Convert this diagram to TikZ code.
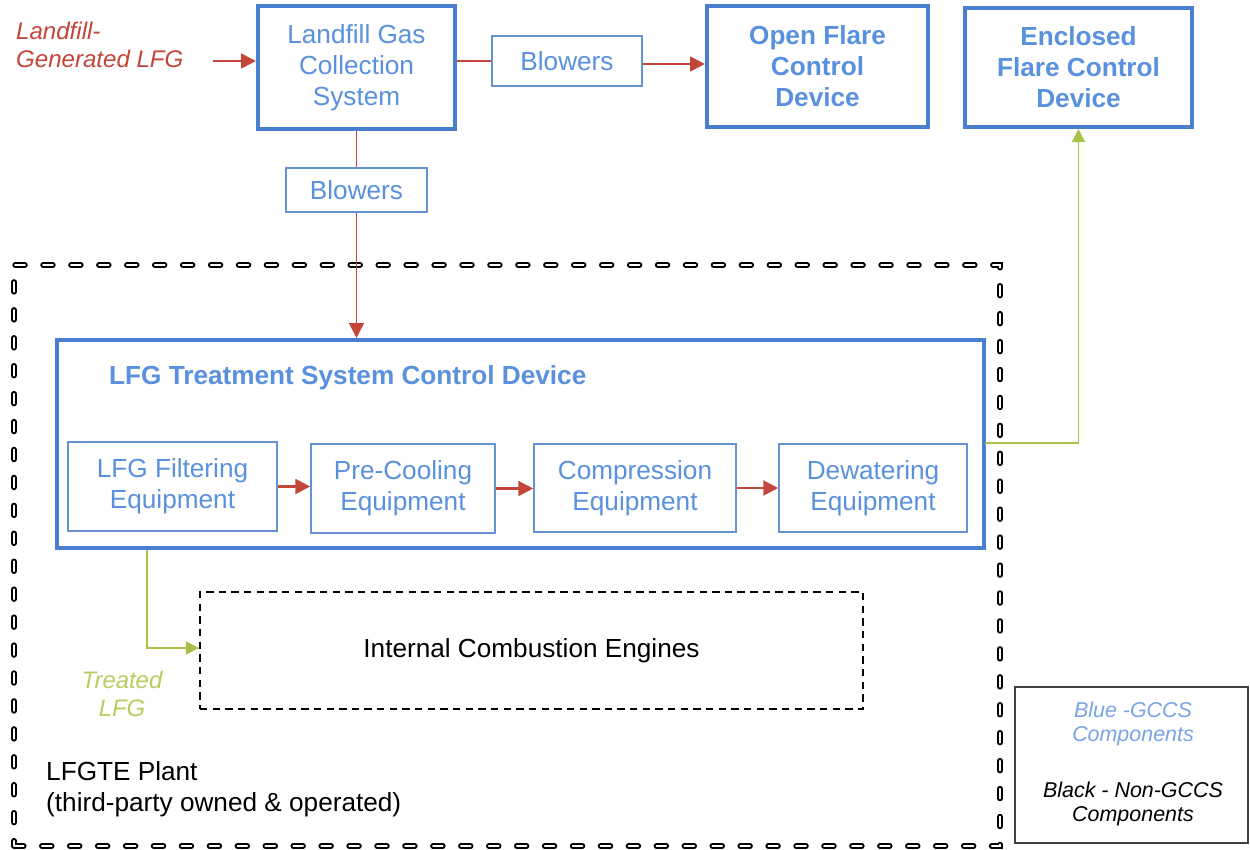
\documentclass[tikz,border=0pt]{standalone}
\usepackage{fontspec}
\setmainfont{Liberation Sans}
\usetikzlibrary{arrows.meta,calc}
\definecolor{bordblue}{RGB}{74,126,206}
\definecolor{txtblue}{RGB}{90,145,222}
\definecolor{legblue}{RGB}{120,165,228}
\definecolor{flowred}{RGB}{196,70,58}
\definecolor{flowgreen}{RGB}{168,194,74}
\definecolor{txtgreen}{RGB}{185,205,95}
\tikzset{
  wh/.style 2 args={minimum width=#1*0.02cm, minimum height=#2*0.02cm},
  basefont/.style={font=\fontsize{14.9}{17.6}\selectfont},
  thickbox/.style={draw=bordblue, line width=2.3pt, inner sep=0pt, text=txtblue, align=center, basefont},
  thinbox/.style={draw=bordblue!85!white, line width=0.9pt, inner sep=0pt, text=txtblue, align=center, basefont},
  boldtxt/.style={font=\fontsize{14.9}{17.6}\selectfont\bfseries},
  redflow/.style={draw=flowred, line width=1pt},
  redarrow/.style={redflow, -{Triangle[length=8.5pt,width=8.5pt]}},
  greenflow/.style={draw=flowgreen, line width=0.9pt},
  greenarrow/.style={greenflow, -{Triangle[length=7.5pt,width=7.5pt]}},
  plantbox/.style={draw=black, double=white, double distance=1.1pt, line width=1.1pt,
     dash pattern=on 5.5pt off 10.4pt, line cap=round, inner sep=0pt},
  icebox/.style={draw=black, line width=1.1pt, dash pattern=on 4.2pt off 3pt, inner sep=0pt},
}
\begin{document}
\begin{tikzpicture}[x=0.02cm, y=-0.02cm]
\useasboundingbox[fill=white] (0,0) rectangle (1250,849);

% big plant dashed box
\node[plantbox, wh={986}{581}] (plant) at (507,555.5) {};

% top row
\node[anchor=west, align=left, text=flowred, font=\fontsize{13.7}{16.2}\selectfont\itshape] (lfgin) at (10,45) {Landfill-\\Generated LFG};
\node[thickbox, wh={197}{123}] (lgcs) at (356.5,67.5) {Landfill Gas\\Collection\\System};
\node[thinbox, wh={150}{50}] (blowA) at (567,61) {Blowers};
\node[thickbox, wh={221}{121}, boldtxt] (ofl) at (817.5,66.5) {Open Flare\\Control\\Device};
\node[thickbox, wh={227}{119}, boldtxt] (efl) at (1078.5,67.5) {Enclosed\\Flare Control\\Device};
\node[thinbox, wh={141}{44}] (blowB) at (356.5,190) {Blowers};

% treatment system
\node[thickbox, wh={927}{208}] (tsc) at (520.5,444) {};
\node[anchor=west, text=txtblue, boldtxt] (title) at (103,378) {LFG Treatment System Control Device};
\node[thinbox, wh={209}{89}] (filt) at (172.5,486.5) {LFG Filtering\\Equipment};
\node[thinbox, wh={184}{89}] (pre) at (403,488.5) {Pre-Cooling\\Equipment};
\node[thinbox, wh={202}{88}] (comp) at (635,488) {Compression\\Equipment};
\node[thinbox, wh={188}{88}] (dew) at (873,488) {Dewatering\\Equipment};

% engines
\node[icebox, wh={663}{117}, basefont] (ice) at (531.5,650.5) {Internal Combustion Engines};
\node[text=txtgreen, align=center, font=\fontsize{13.6}{15.5}\selectfont\itshape] (treated) at (122,694) {Treated\\LFG};

% plant label
\node[anchor=west, align=left, basefont] (plantlbl) at (40,789) {LFGTE Plant\\(third-party owned \& operated)};

% legend
\node[draw=black!75, line width=0.6pt, wh={233}{156}, inner sep=0pt] (legend) at (1131.5,765) {};
\node[text=legblue, align=center, font=\fontsize{12.2}{13.7}\selectfont\itshape] (legA) at (1133,724) {Blue -GCCS\\Components};
\node[text=black, align=center, font=\fontsize{12.2}{13.7}\selectfont\itshape] (legB) at (1133,804) {Black - Non-GCCS\\Components};

% connectors
\coordinate (inS) at (213,61);
\draw[redarrow] (inS) -- (inS -| lgcs.west);
\draw[redflow] (lgcs.east |- blowA.west) -- (blowA.west);
\draw[redarrow] ([yshift=-3*0.02cm]blowA.east) -- ([yshift=-3*0.02cm]blowA.east -| ofl.west);
\draw[redflow] (lgcs.south) -- (blowB.north);
\draw[redarrow] (blowB.south) -- (blowB.south |- tsc.north);
\draw[redarrow, line width=1.3pt] (filt.east) -- (filt.east -| pre.west);
\draw[redarrow, line width=1.3pt] (pre.east) -- (pre.east -| comp.west);
\draw[redarrow, line width=1.3pt] (comp.east) -- (comp.east -| dew.west);

\coordinate (gR) at (985,443);
\draw[greenarrow] (gR) -| (efl.south);
\coordinate (gL) at (147,550);
\draw[greenarrow] (gL) |- ([yshift=2.5*0.02cm]ice.west);
\end{tikzpicture}
\end{document}
